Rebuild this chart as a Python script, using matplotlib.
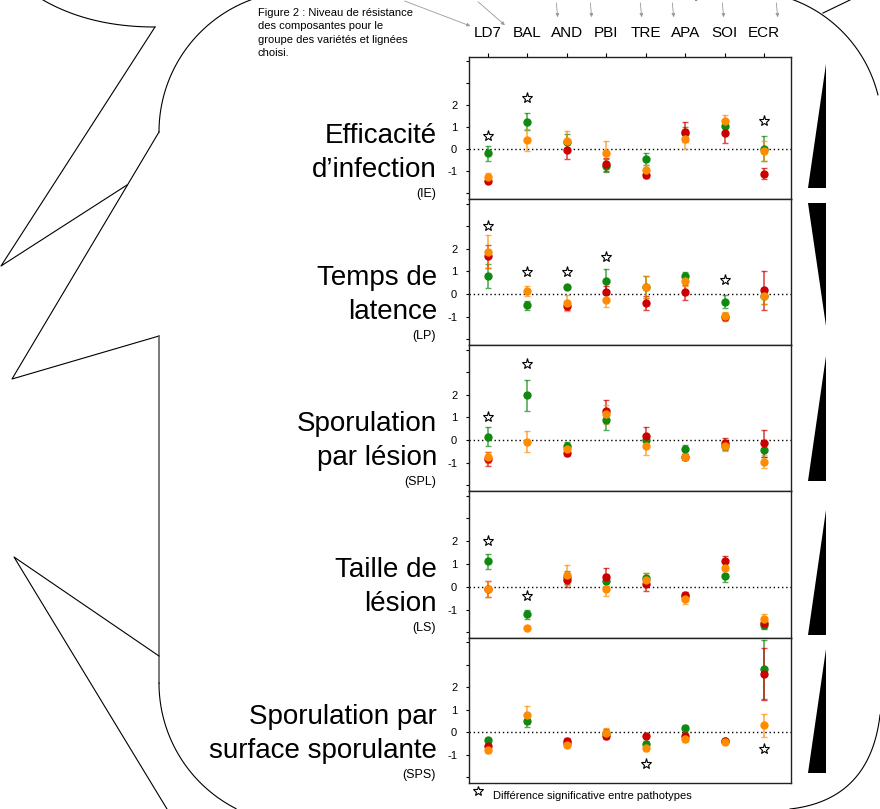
"""
Figure 2 : resistance components (IE, LP, SPL, LS, SPS) per variety,
three pathotypes (green / red / orange) with error bars.
"""

import numpy as np
import matplotlib
matplotlib.use("Agg")
import matplotlib.pyplot as plt
from matplotlib.patches import Polygon

nan = np.nan

CATEGORIES = ["LD7", "BAL", "AND", "PBI", "TRE", "APA", "SOI", "ECR"]

# Efficacite d'infection (IE)
IE_GREEN      = [-0.17, 1.27, 0.35, -0.74, -0.44, 0.74, 1.08, 0.04]
IE_GREEN_ERR  = [0.34, 0.39, 0.35, 0.30, 0.28, 0.30, 0.30, 0.57]
IE_RED        = [-1.41, nan, -0.03, -0.67, -1.14, 0.81, 0.74, -1.11]
IE_RED_ERR    = [0.10, nan, 0.40, 0.30, 0.15, 0.45, 0.45, 0.25]
IE_ORANGE     = [-1.27, 0.43, 0.40, -0.15, -0.92, 0.49, 1.30, -0.07]
IE_ORANGE_ERR = [0.20, 0.50, 0.45, 0.52, 0.20, 0.45, 0.25, 0.45]
IE_STARS      = [0.62, 2.34, nan, nan, nan, nan, nan, 1.29]

# Temps de latence (LP)
LP_GREEN      = [0.81, -0.49, 0.30, 0.56, 0.31, 0.79, -0.33, -0.10]
LP_GREEN_ERR  = [0.52, 0.20, 0.05, 0.55, 0.50, 0.20, 0.27, 0.35]
LP_RED        = [1.67, nan, -0.52, 0.07, -0.40, 0.07, -1.00, 0.16]
LP_RED_ERR    = [0.50, nan, 0.20, 0.30, 0.30, 0.33, 0.15, 0.85]
LP_ORANGE     = [1.87, 0.15, -0.40, -0.25, 0.31, 0.59, -0.99, -0.10]
LP_ORANGE_ERR = [0.72, 0.22, 0.35, 0.30, 0.50, 0.25, 0.20, 0.35]
LP_STARS      = [3.00, 0.98, 0.98, 1.64, nan, nan, 0.61, nan]

# Sporulation par lesion (SPL)
SPL_GREEN      = [0.15, 1.97, -0.25, 0.89, 0.00, -0.40, -0.25, -0.44]
SPL_GREEN_ERR  = [0.42, 0.70, 0.15, 0.45, 0.20, 0.20, 0.20, 0.30]
SPL_RED        = [-0.84, nan, -0.55, 1.30, 0.19, -0.74, -0.15, -0.15]
SPL_RED_ERR    = [0.30, nan, 0.15, 0.45, 0.38, 0.12, 0.25, 0.60]
SPL_ORANGE     = [-0.77, -0.07, -0.40, 1.13, -0.28, -0.73, -0.25, -0.95]
SPL_ORANGE_ERR = [0.25, 0.45, 0.20, 0.40, 0.38, 0.12, 0.25, 0.30]
SPL_STARS      = [1.00, 3.38, nan, nan, nan, nan, nan, nan]

# Taille de lesion (LS)
LS_GREEN      = [1.11, -1.21, 0.41, 0.25, 0.37, -0.41, 0.47, -1.66]
LS_GREEN_ERR  = [0.33, 0.20, 0.30, 0.30, 0.25, 0.15, 0.25, 0.20]
LS_RED        = [-0.10, nan, 0.30, 0.41, 0.10, -0.37, 1.11, -1.59]
LS_RED_ERR    = [0.35, nan, 0.30, 0.40, 0.30, 0.15, 0.25, 0.20]
LS_ORANGE     = [-0.10, -1.82, 0.52, -0.12, 0.30, -0.55, 0.84, -1.41]
LS_ORANGE_ERR = [0.35, 0.05, 0.45, 0.30, 0.30, 0.20, 0.30, 0.20]
LS_STARS      = [2.00, -0.41, nan, nan, nan, nan, nan, nan]

# Sporulation par surface sporulante (SPS)
SPS_GREEN      = [-0.33, 0.52, -0.45, -0.03, -0.50, 0.19, -0.37, 2.81]
SPS_GREEN_ERR  = [0.10, 0.30, 0.10, 0.20, 0.10, 0.15, 0.05, 1.32]
SPS_RED        = [-0.62, nan, -0.40, -0.15, -0.15, -0.15, -0.36, 2.59]
SPS_RED_ERR    = [0.15, nan, 0.15, 0.15, 0.08, 0.12, 0.05, 1.15]
SPS_ORANGE     = [-0.77, 0.76, -0.55, -0.03, -0.70, -0.30, -0.41, 0.31]
SPS_ORANGE_ERR = [0.15, 0.40, 0.10, 0.22, 0.12, 0.12, 0.05, 0.50]
SPS_STARS      = [nan, nan, nan, nan, -1.41, nan, nan, -0.74]

TITLES = [
    ("Efficacité", "d’infection", "(IE)"),
    ("Temps de", "latence", "(LP)"),
    ("Sporulation", "par lésion", "(SPL)"),
    ("Taille de", "lésion", "(LS)"),
    ("Sporulation par", "surface sporulante", "(SPS)"),
]

CAPTION_LINES = ["Figure 2 : Niveau de résistance", "des composantes pour le",
                 "groupe des variétés et lignées", "choisi."]
LEGEND_TEXT = "Différence significative entre pathotypes"

GREEN, RED, ORANGE = "#118811", "#cc0000", "#ff8c00"

plt.rcParams["font.family"] = ["Liberation Sans", "DejaVu Sans"]

W, H = 880, 809
PANEL_LEFT, PANEL_RIGHT = 469, 791
PANEL_EDGES = [57, 199, 345, 491, 638, 783]


def arc_points(cx, cy, r, a0, a1, n=80):
    """Circle arc in pixel coords (y down), angles in degrees."""
    t = np.radians(np.linspace(a0, a1, n))
    return cx + r * np.cos(t), cy - r * np.sin(t)


def bezier2(p0, p1, p2, n=60):
    t = np.linspace(0, 1, n)[:, None]
    p = (1 - t) ** 2 * np.array(p0) + 2 * (1 - t) * t * np.array(p1) + t ** 2 * np.array(p2)
    return p[:, 0], p[:, 1]


def draw_decor(bg):
    kw = dict(color="black", lw=0.8)
    # speech-bubble outline on the left
    bg.plot(*bezier2((43, 0), (90, 27), (155, 27)), **kw)
    bg.plot([155, 1, 127], [27, 266, 185], **kw)
    bg.plot([159, 12, 159], [132, 379, 336], **kw)
    bg.plot([159, 159], [336, 683], color="#555555", lw=1.1)
    x, y = arc_points(300, 132, 141, 180, 110)
    bg.plot(x, y, **kw)
    x, y = arc_points(300, 683, 141, 180, 243)
    bg.plot(x, y, **kw)
    bg.plot([159, 14, 167], [656, 557, 809], **kw)
    # right side arcs
    x, y = arc_points(745, 128, 137, 111, 14)
    bg.plot(x, y, **kw)
    bg.plot([823, 850], [13, 0], **kw)
    bg.plot(*bezier2((880, 715), (870, 800), (790, 809)), **kw)

    # black wedges beside each panel
    wedges = [
        [(826, 64), (808, 188), (826, 188)],
        [(808, 203), (826, 203), (826, 326)],
        [(826, 356), (808, 481), (826, 481)],
        [(826, 510), (808, 635), (826, 635)],
        [(826, 649), (808, 773), (826, 773)],
    ]
    for pts in wedges:
        bg.add_patch(Polygon(pts, closed=True, color="black", lw=0))

    # small grey pointer arrows at the top
    arr = dict(arrowstyle="-|>", color="#999999", lw=0.6, mutation_scale=5)
    bg.annotate("", xy=(473, 27), xytext=(402, 0), arrowprops=arr)
    bg.annotate("", xy=(507, 27), xytext=(476, 0), arrowprops=arr)
    for xa in [558, 592, 642, 674, 724, 778]:
        bg.annotate("", xy=(xa, 20), xytext=(xa - 2, 0), arrowprops=arr)


def draw_panel(ax, green, green_err, red, red_err, orange, orange_err, stars, top):
    x = np.arange(len(CATEGORIES))
    ax.axhline(0.0, color="black", lw=1.0, ls=(0, (1, 2)), zorder=1)
    for vals, errs, col in [(green, green_err, GREEN),
                            (red, red_err, RED),
                            (orange, orange_err, ORANGE)]:
        ax.errorbar(x, vals, yerr=errs, fmt="none", ecolor=col, elinewidth=1.2,
                    capsize=2.5, capthick=1.0, alpha=0.7, zorder=2)
        ax.plot(x, vals, "o", color=col, ms=5, mec=col, zorder=3)
    ax.plot(x, stars, "*", ms=8, mfc="white", mec="black", mew=0.8,
            ls="none", zorder=4)

    ax.set_xlim(-0.47, 7.68)
    ax.set_ylim(-2.25, 4.2)
    ax.set_yticks([-2, -1, 0, 1, 2, 3, 4])
    ax.set_yticklabels(["", "-1", "0", "1", "2", "", ""])
    ax.tick_params(axis="y", direction="out", length=2.5, width=0.8,
                   labelsize=8, pad=6)
    if top:
        ax.xaxis.tick_top()
        ax.set_xticks(x)
        ax.set_xticklabels(CATEGORIES, fontsize=11)
        ax.tick_params(axis="x", direction="out", length=3, width=0.8, pad=9)
    else:
        ax.set_xticks([])
    for sp in ax.spines.values():
        sp.set_linewidth(1.0)
        sp.set_color("#222222")


def main():
    fig = plt.figure(figsize=(W / 100, H / 100), dpi=100)

    bg = fig.add_axes([0, 0, 1, 1])
    bg.set_xlim(0, W)
    bg.set_ylim(H, 0)
    bg.axis("off")
    draw_decor(bg)

    panels = [
        (IE_GREEN, IE_GREEN_ERR, IE_RED, IE_RED_ERR, IE_ORANGE, IE_ORANGE_ERR, IE_STARS),
        (LP_GREEN, LP_GREEN_ERR, LP_RED, LP_RED_ERR, LP_ORANGE, LP_ORANGE_ERR, LP_STARS),
        (SPL_GREEN, SPL_GREEN_ERR, SPL_RED, SPL_RED_ERR, SPL_ORANGE, SPL_ORANGE_ERR, SPL_STARS),
        (LS_GREEN, LS_GREEN_ERR, LS_RED, LS_RED_ERR, LS_ORANGE, LS_ORANGE_ERR, LS_STARS),
        (SPS_GREEN, SPS_GREEN_ERR, SPS_RED, SPS_RED_ERR, SPS_ORANGE, SPS_ORANGE_ERR, SPS_STARS),
    ]

    for i, data in enumerate(panels):
        t, b = PANEL_EDGES[i], PANEL_EDGES[i + 1]
        ax = fig.add_axes([PANEL_LEFT / W, 1 - b / H,
                           (PANEL_RIGHT - PANEL_LEFT) / W, (b - t) / H])
        draw_panel(ax, *data, top=(i == 0))

        line1, line2, abbr = TITLES[i]
        bg.text(437, t + 79, line1, fontsize=20, ha="right", va="center")
        bg.text(437, t + 113, line2, fontsize=20, ha="right", va="center")
        bg.text(436, t + 137, abbr, fontsize=9, ha="right", va="center")

    # caption, one line every ~13 px
    for k, line in enumerate(CAPTION_LINES):
        bg.text(258, 13 + 13.3 * k, line, fontsize=8, ha="left", va="center")
    bg.plot([478], [791], "*", ms=7, mfc="white", mec="black", mew=0.8)
    bg.text(493, 796, LEGEND_TEXT, fontsize=8, ha="left", va="center")

    fig.savefig("out.png", dpi=100)


if __name__ == "__main__":
    main()
